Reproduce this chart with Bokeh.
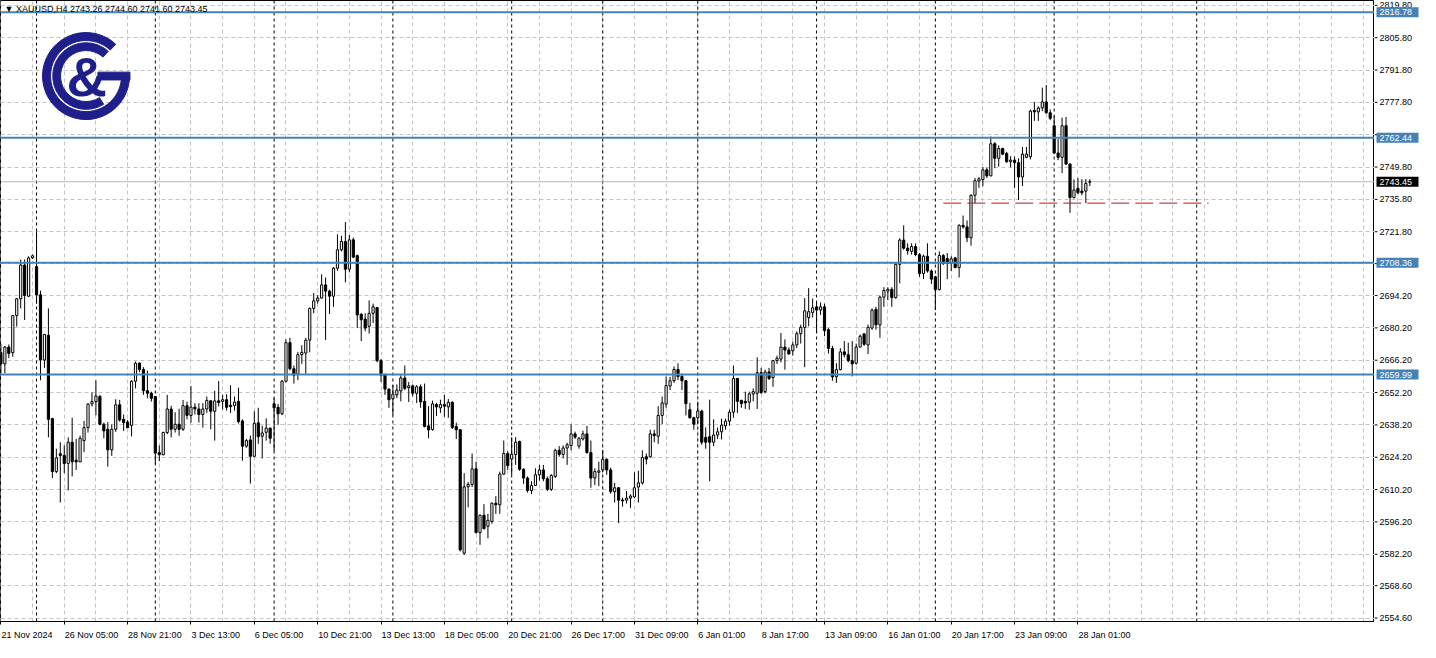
from bokeh.plotting import figure
from bokeh.layouts import row
from bokeh.models import Range1d, FixedTicker, Span, Label, ColumnDataSource
from bokeh.embed import file_html
from bokeh.resources import INLINE
from bokeh.core.properties import value

symbol = "XAUUSD,H4"

opens = [
    2669.5, 2664.6, 2671.9, 2669.5, 2685.5, 2692.8, 2707.4, 2693.9, 2710.5, 2706.7,
    2694.5, 2666.3, 2677.0, 2640.9, 2618.0, 2625.7, 2625.0, 2621.5, 2630.7, 2622.9,
    2622.2, 2631.4, 2637.0, 2647.3, 2648.3, 2650.5, 2638.5, 2636.3, 2627.4, 2636.3,
    2646.9, 2640.6, 2639.4, 2638.0, 2657.1, 2664.9, 2662.2, 2653.0, 2651.9, 2650.5,
    2626.2, 2625.3, 2634.9, 2645.1, 2636.3, 2638.5, 2636.3, 2646.5, 2642.3, 2645.9,
    2645.1, 2642.7, 2645.1, 2648.6, 2644.1, 2648.6, 2648.4, 2649.1, 2646.7, 2646.5,
    2648.4, 2639.9, 2629.0, 2631.7, 2624.6, 2639.1, 2633.3, 2635.0, 2636.8, 2647.3,
    2645.8, 2643.0, 2657.1, 2673.8, 2662.5, 2660.1, 2668.6, 2669.3, 2674.9, 2688.6,
    2691.9, 2693.1, 2698.8, 2696.1, 2693.9, 2706.0, 2714.0, 2717.6, 2705.6, 2718.3,
    2711.5, 2686.1, 2684.0, 2680.9, 2686.5, 2689.0, 2666.0, 2660.0, 2653.7, 2649.5,
    2651.2, 2652.9, 2658.5, 2654.3, 2655.1, 2651.9, 2654.7, 2648.4, 2637.8, 2636.2,
    2647.0, 2645.6, 2647.0, 2646.0, 2648.0, 2637.5, 2636.1, 2582.7, 2611.4, 2612.4,
    2619.2, 2591.6, 2599.1, 2594.3, 2596.4, 2604.3, 2603.6, 2616.9, 2625.8, 2623.4,
    2625.4, 2631.0, 2619.0, 2615.2, 2609.8, 2612.0, 2616.6, 2618.7, 2614.9, 2610.3,
    2615.9, 2627.2, 2625.4, 2628.2, 2629.3, 2634.3, 2629.0, 2632.1, 2634.3, 2626.2,
    2615.2, 2617.7, 2618.7, 2623.3, 2618.7, 2609.3, 2611.0, 2605.7, 2605.6, 2606.5,
    2607.0, 2611.3, 2613.1, 2624.4, 2624.4, 2634.3, 2633.3, 2642.3, 2647.2, 2655.0,
    2657.3, 2662.2, 2659.2, 2657.3, 2644.8, 2641.3, 2641.3, 2644.2, 2632.8, 2633.1,
    2630.7, 2633.8, 2635.2, 2637.8, 2639.8, 2643.7, 2658.3, 2648.8, 2648.4, 2648.0,
    2651.6, 2651.9, 2660.8, 2652.6, 2661.1, 2658.7, 2666.0, 2666.7, 2671.9, 2670.6,
    2670.3, 2672.8, 2677.7, 2680.4, 2684.7, 2686.9, 2689.3, 2687.9, 2689.3, 2679.4,
    2671.3, 2659.0, 2662.1, 2669.8, 2668.6, 2666.0, 2664.9, 2671.9, 2677.6, 2672.8,
    2680.1, 2688.2, 2681.5, 2693.5, 2696.1, 2696.9, 2693.3, 2707.7, 2718.2, 2714.7,
    2713.3, 2715.4, 2711.9, 2703.7, 2711.2, 2704.8, 2702.3, 2696.8, 2711.5, 2710.2,
    2708.2, 2710.5, 2706.3, 2724.6, 2723.9, 2719.2, 2737.6, 2743.7, 2744.4, 2748.6,
    2746.0, 2759.9, 2753.6, 2757.8, 2755.7, 2752.1, 2752.8, 2751.7, 2745.5, 2754.0,
    2754.3, 2774.3, 2773.7, 2775.4, 2778.0, 2773.3, 2767.7, 2755.9, 2754.0, 2767.7,
    2751.1, 2736.6, 2740.6, 2739.4, 2739.4, 2743.26,
]

highs = [
    2673.3, 2672.3, 2673.0, 2685.8, 2693.1, 2709.8, 2709.8, 2711.2, 2711.9, 2721.8,
    2696.3, 2677.6, 2688.6, 2641.3, 2627.9, 2630.7, 2629.3, 2632.8, 2641.3, 2632.1,
    2633.5, 2639.9, 2647.6, 2652.3, 2657.5, 2651.2, 2639.2, 2639.4, 2638.5, 2649.3,
    2649.0, 2642.7, 2640.3, 2657.5, 2665.6, 2665.3, 2663.2, 2661.7, 2652.6, 2650.7,
    2629.3, 2635.3, 2651.2, 2646.5, 2643.7, 2645.2, 2649.0, 2648.3, 2655.0, 2647.6,
    2647.6, 2647.6, 2650.5, 2649.0, 2653.0, 2657.2, 2651.2, 2651.5, 2655.4, 2650.5,
    2654.3, 2640.6, 2632.1, 2633.6, 2644.1, 2645.6, 2637.8, 2641.0, 2637.1, 2649.8,
    2647.3, 2657.6, 2675.2, 2675.9, 2663.9, 2669.8, 2672.7, 2675.9, 2689.0, 2695.3,
    2694.3, 2703.4, 2702.0, 2696.7, 2706.5, 2720.7, 2720.1, 2726.0, 2720.4, 2719.3,
    2711.9, 2686.5, 2686.5, 2692.1, 2690.7, 2689.3, 2666.7, 2660.4, 2654.0, 2655.4,
    2655.7, 2659.7, 2663.9, 2656.8, 2655.7, 2655.4, 2655.7, 2656.1, 2646.3, 2648.7,
    2647.7, 2649.1, 2651.2, 2649.4, 2648.4, 2639.2, 2636.4, 2617.3, 2613.5, 2625.8,
    2622.3, 2599.4, 2603.9, 2599.7, 2604.6, 2607.4, 2618.0, 2631.4, 2626.8, 2632.9,
    2632.9, 2631.4, 2619.4, 2615.9, 2613.8, 2619.4, 2620.9, 2620.9, 2615.9, 2616.9,
    2627.9, 2629.0, 2629.3, 2630.5, 2638.5, 2635.3, 2632.9, 2635.7, 2637.8, 2631.4,
    2619.4, 2622.3, 2627.2, 2623.7, 2619.7, 2613.1, 2611.3, 2606.7, 2609.6, 2608.2,
    2617.7, 2618.3, 2627.2, 2625.8, 2636.1, 2636.1, 2646.3, 2650.5, 2659.2, 2659.0,
    2663.5, 2664.9, 2660.4, 2657.6, 2647.7, 2641.7, 2648.0, 2644.8, 2637.1, 2649.1,
    2640.6, 2637.1, 2640.9, 2640.9, 2644.8, 2663.9, 2658.5, 2649.1, 2652.6, 2652.6,
    2654.0, 2667.4, 2662.9, 2662.1, 2662.9, 2666.3, 2668.2, 2678.0, 2675.2, 2671.7,
    2674.2, 2678.7, 2681.6, 2693.1, 2697.4, 2692.9, 2691.2, 2691.2, 2690.7, 2680.1,
    2672.4, 2664.9, 2671.4, 2674.5, 2673.8, 2674.5, 2673.4, 2677.3, 2678.0, 2681.6,
    2688.6, 2689.3, 2694.2, 2697.8, 2697.8, 2697.8, 2708.4, 2719.0, 2724.6, 2716.8,
    2716.8, 2716.8, 2712.6, 2711.9, 2716.8, 2705.5, 2702.7, 2713.3, 2712.2, 2712.6,
    2711.2, 2710.9, 2725.0, 2728.8, 2726.7, 2738.0, 2745.1, 2745.5, 2749.7, 2749.7,
    2763.0, 2760.6, 2759.2, 2758.2, 2756.4, 2754.5, 2754.3, 2753.6, 2758.5, 2758.5,
    2774.7, 2778.0, 2776.1, 2784.2, 2785.3, 2774.7, 2771.9, 2762.0, 2771.2, 2771.5,
    2751.4, 2744.4, 2745.1, 2744.6, 2744.6, 2744.60,
]

lows = [
    2660.3, 2660.6, 2667.1, 2667.7, 2680.8, 2688.6, 2683.6, 2693.5, 2710.0, 2690.7,
    2657.5, 2662.9, 2632.8, 2615.2, 2617.3, 2604.6, 2617.3, 2609.8, 2615.9, 2618.7,
    2622.2, 2626.4, 2634.9, 2646.2, 2642.4, 2638.0, 2632.4, 2620.1, 2624.8, 2635.2,
    2639.6, 2635.6, 2636.8, 2633.2, 2654.0, 2661.0, 2651.2, 2649.7, 2648.3, 2621.5,
    2622.5, 2625.0, 2634.2, 2632.8, 2634.9, 2633.5, 2635.6, 2640.6, 2639.2, 2642.7,
    2639.2, 2637.0, 2643.4, 2636.3, 2631.4, 2646.2, 2644.9, 2644.4, 2643.4, 2644.4,
    2638.8, 2622.7, 2628.3, 2612.8, 2624.4, 2630.0, 2623.7, 2631.4, 2630.0, 2626.9,
    2638.2, 2642.4, 2656.6, 2661.8, 2656.1, 2657.6, 2664.6, 2660.4, 2669.6, 2686.5,
    2690.7, 2692.9, 2674.9, 2686.2, 2689.3, 2704.9, 2713.3, 2699.9, 2704.2, 2710.5,
    2680.1, 2674.5, 2678.7, 2677.7, 2682.3, 2665.3, 2656.8, 2651.2, 2645.6, 2642.4,
    2649.8, 2648.4, 2653.3, 2648.1, 2650.5, 2647.7, 2645.6, 2637.1, 2632.4, 2635.7,
    2642.0, 2643.4, 2641.7, 2641.3, 2636.4, 2632.1, 2583.4, 2582.0, 2602.5, 2611.3,
    2591.2, 2586.3, 2592.9, 2589.1, 2595.4, 2599.7, 2599.7, 2616.6, 2618.7, 2616.6,
    2620.9, 2618.3, 2612.7, 2608.9, 2608.2, 2611.7, 2614.1, 2613.8, 2609.6, 2609.6,
    2615.2, 2624.4, 2623.7, 2620.9, 2627.2, 2632.1, 2627.9, 2631.4, 2625.8, 2611.0,
    2612.1, 2611.7, 2617.7, 2616.6, 2608.4, 2604.6, 2595.7, 2602.8, 2604.2, 2602.2,
    2606.5, 2604.6, 2612.4, 2621.1, 2624.0, 2630.7, 2630.0, 2638.5, 2645.6, 2653.3,
    2656.4, 2657.6, 2653.3, 2642.3, 2640.9, 2636.1, 2638.5, 2629.6, 2627.9, 2613.8,
    2629.0, 2632.1, 2631.9, 2636.1, 2637.8, 2641.3, 2643.4, 2645.6, 2645.1, 2644.8,
    2648.4, 2645.1, 2651.6, 2651.9, 2657.6, 2654.7, 2664.6, 2665.3, 2662.1, 2668.6,
    2668.2, 2671.4, 2673.4, 2663.2, 2680.9, 2684.7, 2678.0, 2685.8, 2676.6, 2669.1,
    2657.3, 2656.4, 2661.8, 2667.4, 2665.3, 2659.2, 2664.3, 2671.7, 2672.4, 2668.9,
    2679.4, 2679.4, 2675.9, 2689.3, 2692.2, 2689.3, 2692.8, 2699.5, 2714.0, 2711.9,
    2711.9, 2711.2, 2702.3, 2701.3, 2704.1, 2699.2, 2687.9, 2696.4, 2707.4, 2701.3,
    2704.8, 2706.0, 2702.0, 2723.2, 2717.3, 2715.8, 2734.2, 2740.8, 2741.5, 2745.1,
    2745.8, 2749.3, 2750.0, 2755.0, 2751.7, 2749.7, 2740.8, 2735.6, 2741.6, 2753.6,
    2753.1, 2769.8, 2769.8, 2774.0, 2772.9, 2770.1, 2755.4, 2752.8, 2747.2, 2750.7,
    2730.0, 2736.2, 2738.0, 2737.6, 2734.2, 2741.60,
]

closes = [
    2664.6, 2671.9, 2669.1, 2685.5, 2692.8, 2707.4, 2694.2, 2710.5, 2711.4, 2694.5,
    2666.3, 2677.3, 2640.6, 2618.0, 2623.9, 2625.0, 2621.5, 2630.7, 2622.2, 2622.2,
    2632.4, 2637.0, 2647.2, 2648.3, 2650.7, 2638.5, 2635.6, 2627.4, 2636.3, 2646.9,
    2640.3, 2639.2, 2637.0, 2657.1, 2664.9, 2662.2, 2653.0, 2651.9, 2649.7, 2626.0,
    2625.3, 2634.9, 2645.1, 2636.3, 2638.5, 2636.3, 2646.5, 2642.3, 2645.9, 2645.1,
    2642.7, 2645.1, 2648.8, 2644.1, 2648.6, 2647.9, 2649.1, 2645.8, 2646.1, 2648.1,
    2639.6, 2629.0, 2631.4, 2624.6, 2638.9, 2633.1, 2634.7, 2636.8, 2632.4, 2645.6,
    2643.0, 2657.1, 2673.8, 2662.5, 2659.7, 2668.6, 2669.6, 2674.9, 2688.6, 2691.9,
    2693.1, 2698.8, 2696.1, 2693.9, 2706.0, 2714.0, 2717.6, 2705.6, 2718.3, 2710.8,
    2685.8, 2683.7, 2680.1, 2686.5, 2689.3, 2666.0, 2659.7, 2653.7, 2649.1, 2651.5,
    2653.3, 2658.5, 2654.0, 2655.1, 2651.9, 2654.7, 2648.1, 2637.5, 2636.0, 2647.3,
    2646.0, 2647.0, 2646.3, 2648.0, 2637.1, 2636.1, 2584.1, 2611.4, 2612.4, 2619.2,
    2591.6, 2599.1, 2593.3, 2596.9, 2604.3, 2603.6, 2616.9, 2625.8, 2620.6, 2625.5,
    2630.7, 2619.0, 2615.2, 2609.8, 2612.0, 2616.6, 2618.7, 2614.9, 2610.3, 2616.3,
    2627.2, 2625.4, 2628.2, 2629.6, 2634.3, 2632.9, 2632.4, 2634.3, 2626.2, 2615.2,
    2618.0, 2618.3, 2623.3, 2618.7, 2609.3, 2611.0, 2605.6, 2605.3, 2606.5, 2607.4,
    2611.0, 2613.1, 2624.1, 2623.4, 2634.3, 2633.6, 2642.3, 2647.7, 2655.2, 2657.3,
    2662.2, 2659.2, 2657.3, 2647.4, 2641.3, 2638.5, 2644.2, 2630.7, 2630.7, 2630.7,
    2633.8, 2635.2, 2638.1, 2639.8, 2643.7, 2658.3, 2648.4, 2647.4, 2647.7, 2651.6,
    2652.6, 2660.8, 2652.2, 2661.1, 2658.3, 2666.0, 2667.0, 2671.9, 2670.6, 2668.9,
    2672.8, 2677.7, 2680.4, 2687.6, 2687.2, 2688.9, 2687.9, 2689.3, 2679.0, 2671.3,
    2659.0, 2662.1, 2669.8, 2668.6, 2666.0, 2664.6, 2671.9, 2676.6, 2673.1, 2680.4,
    2687.9, 2681.5, 2693.5, 2696.4, 2696.9, 2693.3, 2707.7, 2718.2, 2714.7, 2713.6,
    2715.4, 2711.9, 2703.7, 2711.2, 2704.8, 2701.3, 2696.8, 2711.5, 2708.1, 2708.1,
    2710.1, 2706.3, 2724.6, 2723.9, 2719.2, 2737.6, 2743.9, 2744.7, 2748.6, 2746.0,
    2759.9, 2753.6, 2757.8, 2755.4, 2752.1, 2752.8, 2751.7, 2745.5, 2755.4, 2755.4,
    2774.0, 2773.7, 2775.4, 2778.0, 2773.3, 2770.9, 2755.9, 2754.0, 2767.7, 2751.1,
    2736.6, 2739.9, 2738.7, 2738.7, 2742.7, 2743.45,
]

x_label_idx = [0, 16, 32, 48, 64, 80, 96, 112, 128, 144, 160, 176, 192, 208, 224, 240, 256, 272]
x_label_txt = ["21 Nov 2024", "26 Nov 05:00", "28 Nov 21:00", "3 Dec 13:00", "6 Dec 05:00",
               "10 Dec 21:00", "13 Dec 13:00", "18 Dec 05:00", "20 Dec 21:00", "26 Dec 17:00",
               "31 Dec 09:00", "6 Jan 01:00", "8 Jan 17:00", "13 Jan 09:00", "16 Jan 01:00",
               "20 Jan 17:00", "23 Jan 09:00", "28 Jan 01:00"]
week_starts = [9, 39, 69, 99, 129, 152, 176, 206, 236, 266, 302]
x_grid_step = 8

y_tick_vals = [2819.8, 2805.8, 2791.8, 2777.8, 2763.8, 2749.8, 2735.8, 2721.8, 2708.0, 2694.2,
               2680.2, 2666.2, 2652.2, 2638.2, 2624.2, 2610.2, 2596.2, 2582.2, 2568.6, 2554.6]
y_tick_txt = ["2819.80", "2805.80", "2791.80", "2777.80", "", "2749.80", "2735.80", "2721.80", "", "2694.20",
              "2680.20", "2666.20", "2652.20", "2638.20", "2624.20", "2610.20", "2596.20", "2582.20", "2568.60", "2554.60"]

levels = [2816.78, 2762.44, 2708.36, 2659.99]
support_level = 2734.2
support_from, support_to = 238, 305

price_lo, price_hi = 2553.1, 2821.9
idx_lo, idx_hi = -0.1, 346.9

FONT = "Liberation Sans"
FS = "9px"
LEVEL_BLUE = "#4682B4"
NAVY = "#1f1f8c"

MAIN_W, STRIP_W, H, BOTTOM = 1374, 46, 642, 20

# approximate glyph advance widths (per 1000 em) to centre axis labels right of their tick
ADV = {" ": 278, ":": 278, "N": 722, "o": 556, "v": 500, "D": 722, "e": 556, "c": 500,
       "J": 500, "a": 556, "n": 556}
px_per_bar = MAIN_W / (idx_hi - idx_lo)


def text_px(s):
    return sum(ADV.get(ch, 556) for ch in s) / 1000.0 * 9


label_centres = [round(t + (text_px(s) / 2 + 0.5) / px_per_bar, 3) for t, s in zip(x_label_idx, x_label_txt)]

n = len(closes)
idx = list(range(n))
src = ColumnDataSource(dict(
    x=idx,
    o=opens, h=highs, l=lows, c=closes,
    top=[max(a, b) for a, b in zip(opens, closes)],
    bottom=[min(a, b) for a, b in zip(opens, closes)],
    fill=["white" if c >= o else "black" for o, c in zip(opens, closes)],
))

fig = figure(width=MAIN_W, height=H, x_range=Range1d(idx_lo, idx_hi), y_range=Range1d(price_lo, price_hi),
             output_backend="svg", toolbar_location=None, y_axis_location=None,
             min_border_left=0, min_border_right=0, min_border_top=0, min_border_bottom=BOTTOM)
fig.background_fill_color = "white"
fig.border_fill_color = "white"
fig.outline_line_color = "black"
fig.outline_line_width = 1

# grids
fig.ygrid.ticker = FixedTicker(ticks=y_tick_vals)
fig.ygrid.grid_line_color = "#c4c4c4"
fig.ygrid.grid_line_dash = "4 3"
fig.xgrid.ticker = FixedTicker(ticks=list(range(0, int(idx_hi) + 1, x_grid_step)))
fig.xgrid.grid_line_color = "#c4c4c4"
fig.xgrid.grid_line_dash = "4 3"

# x axis: tick marks (minor) at label positions, labels centred just right of each tick
fig.xaxis.ticker = FixedTicker(ticks=label_centres, minor_ticks=x_label_idx)
fig.xaxis.major_label_overrides = dict(zip(label_centres, x_label_txt))
fig.xaxis.major_label_text_font = FONT
fig.xaxis.major_label_text_font_size = FS
fig.xaxis.major_label_text_color = "black"
fig.xaxis.major_label_standoff = 5
fig.xaxis.major_tick_out = 0
fig.xaxis.major_tick_in = 0
fig.xaxis.minor_tick_out = 3
fig.xaxis.minor_tick_in = 0
fig.xaxis.minor_tick_line_color = "black"
fig.xaxis.axis_line_color = "black"

# week separators
for w in week_starts:
    fig.add_layout(Span(location=w, dimension="height", line_color="black",
                        line_dash="3 3", line_width=1, level="underlay"))

# current price line
fig.add_layout(Span(location=closes[-1], dimension="width", line_color="#b8b8b8",
                    line_width=1, level="underlay"))

# logo
logo_x, logo_y = 21.5, 2789.2
fig.annular_wedge(x=[logo_x], y=[logo_y], inner_radius=35.5, outer_radius=43.5,
                  inner_radius_units="screen", outer_radius_units="screen",
                  start_angle=47, end_angle=360, start_angle_units="deg", end_angle_units="deg",
                  color=NAVY)
fig.annular_wedge(x=[logo_x], y=[logo_y], inner_radius=25.5, outer_radius=33.3,
                  inner_radius_units="screen", outer_radius_units="screen",
                  start_angle=48, end_angle=302, start_angle_units="deg", end_angle_units="deg",
                  color=NAVY)
fig.rect(x=[logo_x + 7.05], y=[logo_y], width=32, height=7.8,
         width_units="screen", height_units="screen", color=NAVY)
fig.text(x=[logo_x + 0.2], y=[logo_y], text=["&"], text_font=value(FONT), text_font_style="bold",
         text_font_size="56px", text_align="center", text_baseline="middle", text_color=NAVY)

# candles
fig.segment(x0="x", y0="l", x1="x", y1="h", source=src, line_color="black", line_width=1)
fig.vbar(x="x", top="top", bottom="bottom", width=0.55, source=src,
         fill_color="fill", line_color="black", line_width=1)

# level lines
for lv in levels:
    fig.add_layout(Span(location=lv, dimension="width", line_color=LEVEL_BLUE, line_width=2))

# support dashed
fig.segment(x0=[support_from], y0=[support_level], x1=[support_to], y1=[support_level],
            line_color="#c81414", line_width=1, line_dash="18 6")

# header
header = f"\u25BC {symbol}  {opens[-1]:.2f} {highs[-1]:.2f} {lows[-1]:.2f} {closes[-1]:.2f}"
fig.add_layout(Label(x=4, y=price_hi, x_units="screen", y_units="data", y_offset=-3,
                     text=header, text_font=FONT, text_font_size=FS, text_color="black",
                     text_align="left", text_baseline="top"))

# ---- right price scale strip (shares the price range) ----
strip = figure(width=STRIP_W, height=H, x_range=Range1d(0, STRIP_W), y_range=fig.y_range,
               output_backend="svg", toolbar_location=None, x_axis_location=None, y_axis_location=None,
               min_border_left=0, min_border_right=0, min_border_top=0, min_border_bottom=BOTTOM)
strip.outline_line_color = None
strip.background_fill_color = "white"
strip.border_fill_color = "white"
strip.xgrid.visible = False
strip.ygrid.visible = False

tick_src = ColumnDataSource(dict(y=y_tick_vals, t=y_tick_txt))
strip.segment(x0=0, x1=3, y0="y", y1="y", source=tick_src, line_color="black", line_width=1)
shown = [(v, t) for v, t in zip(y_tick_vals, y_tick_txt) if t]
strip.text(x=5, y=[v for v, _ in shown], text=[t for _, t in shown], text_font=value(FONT),
           text_font_size=FS, text_color="black", text_align="left", text_baseline="middle")

box_vals = levels + [closes[-1]]
box_cols = [LEVEL_BLUE] * len(levels) + ["black"]
strip.rect(x=23, y=box_vals, width=42, height=10, height_units="screen",
           fill_color=box_cols, line_color=None)
strip.text(x=5, y=box_vals, text=[f"{v:.2f}" for v in box_vals], text_font=value(FONT),
           text_font_size=FS, text_color="white", text_align="left", text_baseline="middle")

p = row(fig, strip, spacing=0)

open("out.html", "w").write(file_html(p, INLINE))
